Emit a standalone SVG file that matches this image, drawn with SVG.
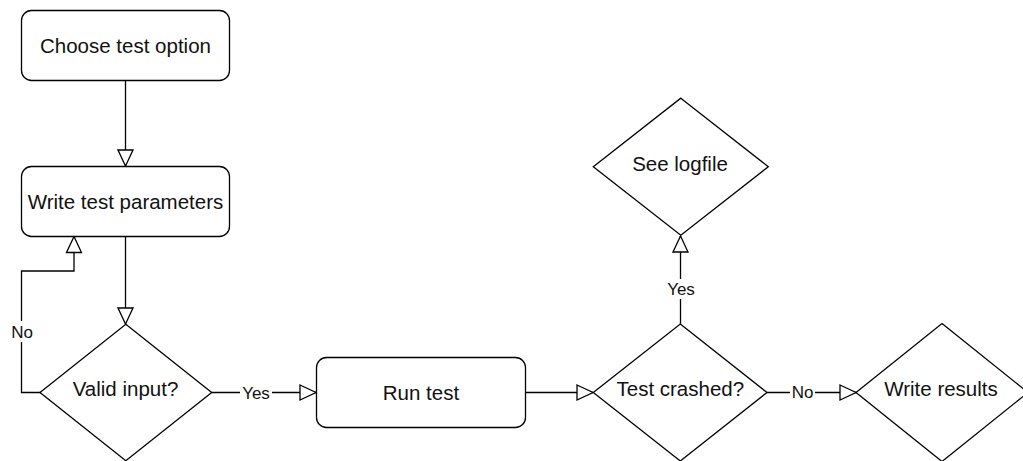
<svg xmlns="http://www.w3.org/2000/svg" width="1023" height="461" viewBox="0 0 1023 461">
  <style>
    .node { fill: #ffffff; stroke: #000000; stroke-width: 1.3; }
    .edge { fill: none; stroke: #000000; stroke-width: 1.3; }
    .txt { font-family: "Liberation Sans", Arial, Helvetica, sans-serif; font-size: 20.5px; fill: #111111; text-anchor: middle; }
    .lbl { font-family: "Liberation Sans", Arial, Helvetica, sans-serif; font-size: 17px; fill: #111111; text-anchor: middle; }
    .lblbg { fill: #ffffff; stroke: none; }
  </style>
  <defs>
    <marker id="arrow" markerUnits="userSpaceOnUse" markerWidth="18" markerHeight="18" viewBox="-1 -1 18 18" refX="16" refY="8" orient="auto">
      <path d="M0,0.5 L16,8 L0,15.5 Z" fill="#ffffff" stroke="#000000" stroke-width="1.3"/>
    </marker>
  </defs>
  <rect width="1023" height="461" fill="#ffffff"/>

  <g id="connectors">
    <path class="edge" d="M125.5,80.5 V166" marker-end="url(#arrow)"/>
    <path class="edge" d="M125.5,236.5 V324" marker-end="url(#arrow)"/>
    <path class="edge" d="M40,392.5 H21.5 V271 H74 V236.5" marker-end="url(#arrow)"/>
    <rect class="lblbg" x="9" y="321" width="26" height="21"/>
    <text class="lbl" x="22" y="338">No</text>
    <path class="edge" d="M211.5,392.5 H316" marker-end="url(#arrow)"/>
    <rect class="lblbg" x="240" y="384" width="32" height="18"/>
    <text class="lbl" x="256" y="399">Yes</text>
    <path class="edge" d="M525.5,392.5 H593" marker-end="url(#arrow)"/>
    <path class="edge" d="M680.5,324 V236" marker-end="url(#arrow)"/>
    <rect class="lblbg" x="665" y="279" width="32" height="20"/>
    <text class="lbl" x="681" y="295">Yes</text>
    <path class="edge" d="M767,392.5 H856" marker-end="url(#arrow)"/>
    <rect class="lblbg" x="790" y="383" width="25" height="19"/>
    <text class="lbl" x="802.5" y="398">No</text>
  </g>

  <g id="node-choose">
    <rect class="node" x="21.5" y="10.5" width="208" height="70" rx="10" ry="10"/>
    <text class="txt" x="125.5" y="52.5">Choose test option</text>
  </g>
  <g id="node-write-params">
    <rect class="node" x="21.5" y="166.5" width="208" height="70" rx="10" ry="10"/>
    <text class="txt" x="125.5" y="208.5">Write test parameters</text>
  </g>
  <g id="node-valid">
    <path class="node" d="M125.8,324.3 L211.7,392.5 L125.8,460.7 L40,392.5 Z"/>
    <text class="txt" x="125.5" y="395.5">Valid input?</text>
  </g>
  <g id="node-run">
    <rect class="node" x="316.5" y="357.5" width="209" height="70" rx="10" ry="10"/>
    <text class="txt" x="421" y="399.5">Run test</text>
  </g>
  <g id="node-crashed">
    <path class="node" d="M680.3,324 L767,392.5 L680.3,461 L593.3,392.5 Z"/>
    <text class="txt" x="680.3" y="395.5">Test crashed?</text>
  </g>
  <g id="node-logfile">
    <path class="node" d="M680.8,98.2 L768.3,166.7 L680.8,235.2 L593.3,166.7 Z"/>
    <text class="txt" x="680" y="170.5">See logfile</text>
  </g>
  <g id="node-results">
    <path class="node" d="M942,323.5 L1028,392.5 L942,461.5 L856,392.5 Z"/>
    <text class="txt" x="941" y="395.5">Write results</text>
  </g>
</svg>
